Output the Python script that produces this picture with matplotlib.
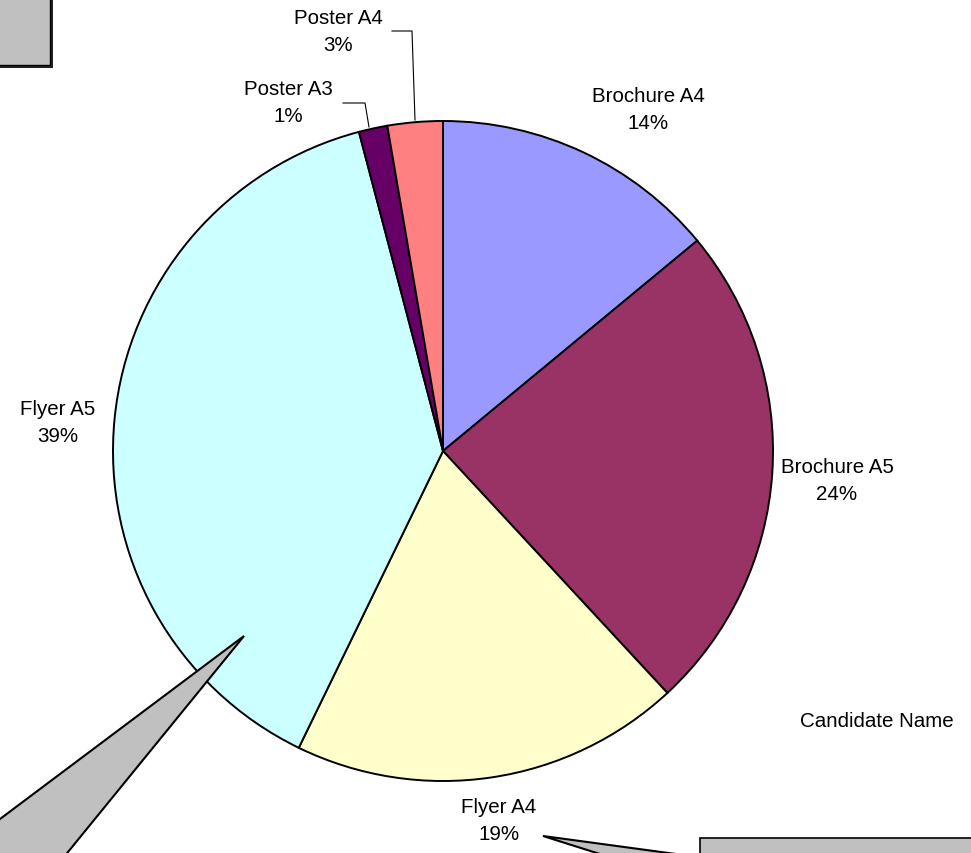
import matplotlib
matplotlib.use("Agg")
import matplotlib.pyplot as plt
from matplotlib.patches import Polygon, Rectangle

plt.rcParams['font.family'] = ['Liberation Sans', 'DejaVu Sans']

categories = ["Brochure A4", "Brochure A5", "Flyer A4", "Flyer A5", "Poster A3", "Poster A4"]
values = [14.0, 24.1, 19.1, 38.7, 1.4, 2.7]
pct_labels = ["14%", "24%", "19%", "39%", "1%", "3%"]
colors = ["#9999FF", "#993366", "#FFFFCC", "#CCFFFF", "#660066", "#FF8080"]

W, H = 971, 854
fig = plt.figure(figsize=(W / 100, H / 100), dpi=100)
ax = fig.add_axes([0, 0, 1, 1])

cx, cy, r = 443, 452, 330
ax.pie(values, colors=colors, startangle=270, counterclock=True,
       center=(cx, cy), radius=r, frame=True,
       wedgeprops=dict(edgecolor='black', linewidth=1.4))
ax.set_xlim(0, W)
ax.set_ylim(H, 0)
ax.set_aspect('equal')
ax.axis('off')

label_pos = [(648, 110), (837, 481), (499, 821), (58, 423), (288, 103), (338, 32)]
for name, pct, (x, y) in zip(categories, pct_labels, label_pos):
    ax.text(x, y, f"{name}\n{pct}", ha='center', va='center', fontsize=14.8,
            linespacing=1.5, zorder=5)

# leader lines
ax.plot([392, 412, 415], [32, 32, 121], color='black', lw=0.8, zorder=4)
ax.plot([343, 365, 369], [104, 104, 128], color='black', lw=0.8, zorder=4)

ax.text(877, 722, "Candidate Name", ha='center', va='center', fontsize=14.8, zorder=5)

gray = '#C0C0C0'
# top-left box with shadow
ax.add_patch(Rectangle((-10, -10), 63, 79, facecolor='#222222', edgecolor='none', zorder=6))
ax.add_patch(Rectangle((-10, -10), 60, 76, facecolor=gray, edgecolor='black', lw=1.0, zorder=7))

# bottom-left callout pointer
ax.add_patch(Polygon([(244, 637), (-80, 880), (46, 880)], closed=True,
                     facecolor=gray, edgecolor='black', lw=1.5, zorder=6))

# bottom-right callout pointer + box
ax.add_patch(Polygon([(543, 837), (720, 861), (641, 868)], closed=True,
                     facecolor=gray, edgecolor='black', lw=1.5, zorder=6))
ax.add_patch(Rectangle((700, 839), 300, 60, facecolor=gray, edgecolor='black', lw=1.2, zorder=7))

fig.savefig("out.png", dpi=100)
